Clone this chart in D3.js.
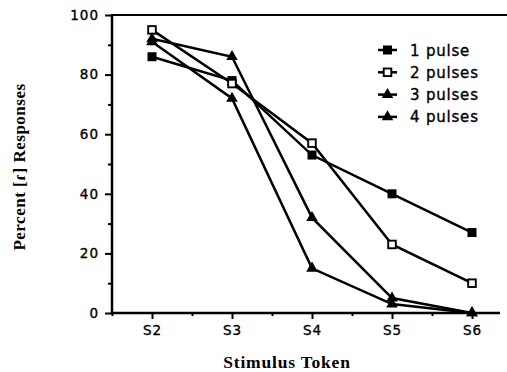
<!DOCTYPE html>
<html><head><meta charset="utf-8">
<script src="https://cdn.jsdelivr.net/npm/d3@7"></script>
<style>
html,body{margin:0;padding:0;background:#fff;}
svg{display:block;}
</style></head>
<body>
<script>
const categories = ["S2","S3","S4","S5","S6"];
const categoryPos = [2,3,4,5,6];
const seriesNames = ["1 pulse","2 pulses","3 pulses","4 pulses"];
const pulse1 = [86, 78, 53, 40, 27];
const pulse2 = [95, 77, 57, 23, 10];
const pulse3 = [92, 86, 32, 5, 0];
const pulse4 = [91, 72, 15, 3, 0];
const yMajorTicks = [0,20,40,60,80,100];
const yMinorTicks = [10,30,50,70,90];
const xMinorTicks = [1.5,2.5,3.5,4.5,5.5];

const series = [
  {name: seriesNames[0], values: pulse1, marker: "square"},
  {name: seriesNames[1], values: pulse2, marker: "open"},
  {name: seriesNames[2], values: pulse3, marker: "triangle"},
  {name: seriesNames[3], values: pulse4, marker: "triangle"}
];

const W = 507, H = 372;
const svg = d3.select("body").append("svg").attr("width", W).attr("height", H);

const x = d3.scaleLinear().domain([2,6]).range([152,472]);
const y = d3.scaleLinear().domain([0,100]).range([313,15]);
const x0 = x(1.5);

const tickFont = "DejaVu Sans, Liberation Sans, Arial, sans-serif";
const serif = "Liberation Serif, Times New Roman, serif";

// Y axis major
const yAx = svg.append("g").attr("transform", `translate(${x0},0)`)
  .call(d3.axisLeft(y).tickValues(yMajorTicks).tickSize(7).tickPadding(6).tickFormat(d3.format("d")));
yAx.select(".domain").remove();
yAx.selectAll(".tick line").attr("stroke","#000").attr("stroke-width",2);
yAx.selectAll(".tick text").attr("font-family",tickFont).attr("font-size","13.5px").attr("letter-spacing","1px")
  .attr("fill","#000").attr("stroke","#000").attr("stroke-width",0.35);
// Y axis minor
const yAxm = svg.append("g").attr("transform", `translate(${x0},0)`)
  .call(d3.axisLeft(y).tickValues(yMinorTicks).tickSize(4).tickFormat(""));
yAxm.select(".domain").remove();
yAxm.selectAll(".tick line").attr("stroke","#000").attr("stroke-width",2);

// X axis major
const xAx = svg.append("g").attr("transform", `translate(0,${y(0)})`)
  .call(d3.axisBottom(x).tickValues(categoryPos).tickSize(6).tickPadding(6).tickFormat((d,i)=>categories[i]));
xAx.select(".domain").remove();
xAx.selectAll(".tick line").attr("stroke","#000").attr("stroke-width",2);
xAx.selectAll(".tick text").attr("font-family",tickFont).attr("font-size","13.5px").attr("letter-spacing","1px")
  .attr("fill","#000").attr("stroke","#000").attr("stroke-width",0.35);
const xAxm = svg.append("g").attr("transform", `translate(0,${y(0)})`)
  .call(d3.axisBottom(x).tickValues(xMinorTicks).tickSize(3).tickFormat(""));
xAxm.select(".domain").remove();
xAxm.selectAll(".tick line").attr("stroke","#000").attr("stroke-width",2);

// frame lines
svg.append("line").attr("x1",x0).attr("x2",x0).attr("y1",y(100)).attr("y2",y(0)+1).attr("stroke","#000").attr("stroke-width",2.5);
svg.append("line").attr("x1",x0-1).attr("x2",500).attr("y1",y(0)).attr("y2",y(0)).attr("stroke","#000").attr("stroke-width",2.5);
svg.append("line").attr("x1",x0-1).attr("x2",507).attr("y1",y(100)).attr("y2",y(100)).attr("stroke","#000").attr("stroke-width",2);

// lines
const line = d3.line().x((d,i)=>x(categoryPos[i])).y(d=>y(d));
series.forEach(s=>{
  svg.append("path").attr("d", line(s.values)).attr("fill","none").attr("stroke","#000").attr("stroke-width",2.5);
});

function drawMarker(g, type, cx, cy){
  if(type==="square"){
    g.append("rect").attr("x",cx-4.5).attr("y",cy-4.5).attr("width",9).attr("height",9).attr("fill","#000");
  } else if(type==="open"){
    g.append("rect").attr("x",cx-3.8).attr("y",cy-3.8).attr("width",7.6).attr("height",7.6).attr("fill","#fff").attr("stroke","#000").attr("stroke-width",1.9);
  } else {
    g.append("path").attr("d", d3.symbol().type(d3.symbolTriangle).size(58)()).attr("transform",`translate(${cx},${cy})`).attr("fill","#000");
  }
}
series.forEach(s=>{
  const g = svg.append("g");
  s.values.forEach((v,i)=>drawMarker(g, s.marker, x(categoryPos[i]), y(v)));
});

// legend
const lg = svg.append("g");
series.forEach((s,i)=>{
  const cy = 50 + i*22.3;
  lg.append("line").attr("x1",378).attr("x2",397).attr("y1",cy).attr("y2",cy).attr("stroke","#000").attr("stroke-width",2.5);
  drawMarker(lg, s.marker, 387.5, cy);
  lg.append("text").attr("x",410).attr("y",cy+5.5).text(s.name)
    .attr("font-family",tickFont).attr("font-size","15px").attr("letter-spacing","0.8px")
    .attr("fill","#000").attr("stroke","#000").attr("stroke-width",0.35);
});

// axis titles
svg.append("text").attr("x",287).attr("y",368).attr("text-anchor","middle")
  .attr("font-family",serif).attr("font-weight","bold").attr("font-size","17.5px").attr("letter-spacing","0.8px")
  .text("Stimulus Token");
svg.append("text").attr("transform","translate(25,167) rotate(-90)").attr("text-anchor","middle")
  .attr("font-family",serif).attr("font-weight","bold").attr("font-size","17px").attr("letter-spacing","0.5px")
  .text("Percent [ɾ] Responses");
</script>
</body></html>
